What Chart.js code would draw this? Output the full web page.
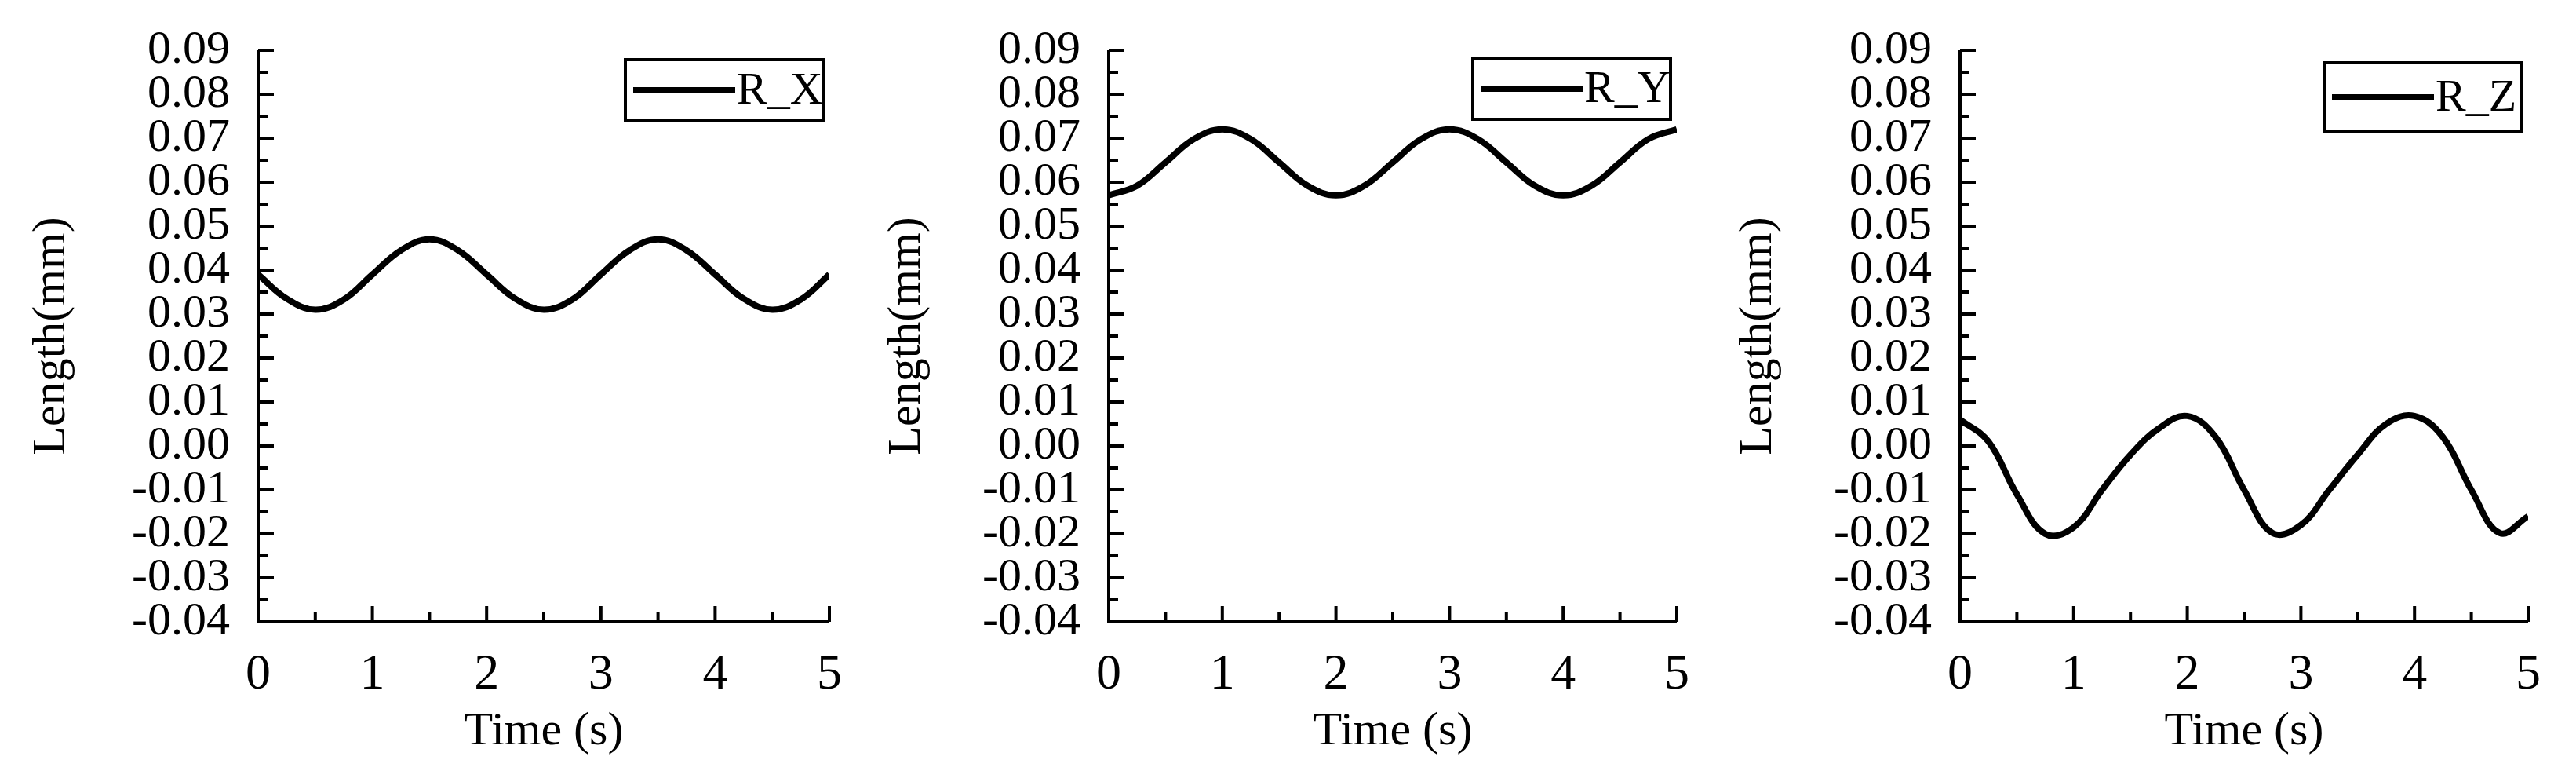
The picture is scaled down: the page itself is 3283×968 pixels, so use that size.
<!DOCTYPE html>
<html><head><meta charset="utf-8">
<script src="https://cdn.jsdelivr.net/npm/chart.js@4/dist/chart.umd.min.js"></script>
<style>html,body{margin:0;background:#fff;width:3283px;height:968px;overflow:hidden}
.p{position:absolute;top:0;height:968px}</style></head><body>
<div class="p" style="left:0;width:1095px"><canvas id="c1"></canvas></div>
<div class="p" style="left:1090px;width:1085px"><canvas id="c2"></canvas></div>
<div class="p" style="left:2175px;width:1085px"><canvas id="c3"></canvas></div>
<script>
const times = [0,0.25,0.5,0.75,1,1.25,1.5,1.75,2,2.25,2.5,2.75,3,3.25,3.5,3.75,4,4.25,4.5,4.75,5];
const rx = [0.039,0.0335,0.031,0.0333,0.039,0.0445,0.047,0.0445,0.039,0.0335,0.031,0.0333,0.039,0.0445,0.047,0.0445,0.039,0.0335,0.031,0.0333,0.039];
const ry = [0.057,0.0592,0.0645,0.0698,0.072,0.0698,0.0645,0.0592,0.057,0.0592,0.0645,0.0698,0.072,0.0698,0.0645,0.0592,0.057,0.0592,0.0645,0.0698,0.072];
const rz = [0.006,0.001,-0.011,-0.020,-0.0185,-0.010,-0.002,0.004,0.0068,0.002,-0.010,-0.0198,-0.018,-0.010,-0.002,0.005,0.0068,0.002,-0.010,-0.0198,-0.016];
const xTicks = [0,1,2,3,4,5];
const yTicks = [-0.04,-0.03,-0.02,-0.01,0,0.01,0.02,0.03,0.04,0.05,0.06,0.07,0.08,0.09];
const yMin = -0.04, yMax = 0.09;
const FONT = "'Liberation Serif', serif";

const inward = {
  id:'inward',
  afterDatasetsDraw(ch){
    const c=ch.ctx, a=ch.chartArea, xs=ch.scales.x, ys=ch.scales.y;
    c.save(); c.strokeStyle='#000'; c.lineWidth=4; c.beginPath();
    for(let v=0; v<=5.001; v+=0.5){const px=xs.getPixelForValue(v); const L=(Math.abs(v-Math.round(v))<1e-6)?20:12; c.moveTo(px,a.bottom); c.lineTo(px,a.bottom-L);}
    for(let i=0;i<=26;i++){const v=yMin+i*0.005; const py=ys.getPixelForValue(v); const L=(i%2===0)?20:12; c.moveTo(a.left,py); c.lineTo(a.left+L,py);}
    c.moveTo(a.left,a.top); c.lineTo(a.left,a.bottom); c.lineTo(a.right,a.bottom);
    c.stroke();
    const o=ch.options.plugins.boxLegend, ds=ch.data.datasets[0];
    const x0=a.right-o.w-8, y0=a.top+o.dy;
    c.lineWidth=4; c.strokeRect(x0,y0,o.w,o.h);
    c.lineWidth=8; c.beginPath(); c.moveTo(x0+10,y0+o.h/2); c.lineTo(x0+140,y0+o.h/2); c.stroke();
    c.fillStyle='#000'; c.font="58px "+FONT; c.textBaseline='middle'; c.textAlign='left';
    c.fillText(ds.label,x0+142,y0+o.h/2+2);
    c.restore();
  }
};

function make(id,label,data,yw,leg){
  new Chart(document.getElementById(id),{
    type:'line',
    data:{datasets:[{label,data:times.map((t,i)=>({x:t,y:data[i]})),borderColor:'#000',borderWidth:8,pointRadius:0,tension:0.4}]},
    options:{responsive:true,maintainAspectRatio:false,animation:false,
      layout:{padding:{top:46,right:14,left:30,bottom:0}},
      plugins:{legend:{display:false},tooltip:{enabled:false},boxLegend:leg},
      scales:{
        x:{type:'linear',min:0,max:5,afterBuildTicks:s=>{s.ticks=xTicks.map(v=>({value:v}));},
          grid:{display:false},border:{display:false},
          ticks:{color:'#000',font:{family:FONT,size:64},padding:22,autoSkip:false,maxRotation:0},
          title:{display:true,text:'Time (s)',color:'#000',font:{family:FONT,size:60},padding:{top:-26,bottom:0}},
          afterFit:s=>{s.height=176;}},
        y:{min:yMin,max:yMax,afterBuildTicks:s=>{s.ticks=yTicks.map(v=>({value:v}));},
          grid:{display:false},border:{display:false},
          ticks:{color:'#000',font:{family:FONT,size:60},padding:28,autoSkip:false,callback:v=>{const s=Math.abs(v).toFixed(2);return (v<-1e-9?'-':'')+s;}},
          title:{display:true,text:'Length(mm)',color:'#000',font:{family:FONT,size:60},padding:{top:0,bottom:0}},
          afterFit:s=>{s.width=yw;}}
      }},
    plugins:[inward]
  });
}
make('c1','R_X',rx,299,{w:252,h:78,dy:12});
make('c2','R_Y',ry,293,{w:252,h:78,dy:10});
make('c3','R_Z',rz,293,{w:252,h:88,dy:16});
</script></body></html>
